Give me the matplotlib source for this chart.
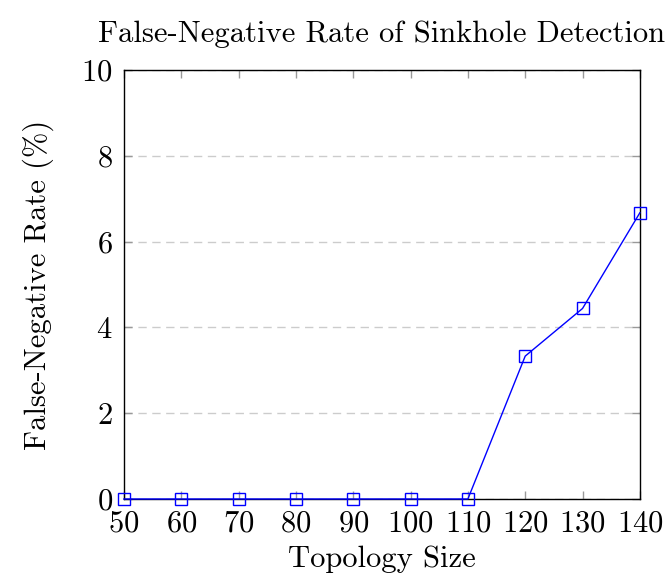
import matplotlib
matplotlib.use("Agg")
import matplotlib.pyplot as plt

topology_size = [50, 60, 70, 80, 90, 100, 110, 120, 130, 140]
fn_rate = [0, 0, 0, 0, 0, 0, 0, 3.33, 4.44, 6.67]
y_ticks = [0, 2, 4, 6, 8, 10]

plt.rcParams['font.family'] = ['cmr10', 'DejaVu Serif']
plt.rcParams['axes.formatter.use_mathtext'] = True

fig = plt.figure(figsize=(6.7, 5.78), dpi=100)
ax = fig.add_axes([0.185, 0.1367, 0.77, 0.7423])

ax.plot(topology_size, fn_rate, color='blue', lw=1.0, marker='s', ms=9,
        mfc='none', mec='blue', mew=1.0, clip_on=False, zorder=3)

ax.set_xlim(50, 140)
ax.set_ylim(0, 10)
ax.set_xticks(topology_size)
ax.set_yticks(y_ticks)
ax.yaxis.grid(True, linestyle=(0, (6, 4)), color='#cccccc', lw=1.0)
ax.set_axisbelow(True)
ax.tick_params(direction='in', length=6, width=1, color='#999999',
               top=True, right=True, labelsize=22)
ax.tick_params(axis='x', pad=8)
ax.tick_params(axis='y', pad=8)
for s in ax.spines.values():
    s.set_linewidth(1.0)

ax.set_xlabel('Topology Size', fontsize=22, labelpad=6)
ax.set_ylabel('False-Negative Rate (%)', fontsize=22, labelpad=20)
ax.set_title('False-Negative Rate of Sinkhole Detection', fontsize=22, pad=20)

fig.savefig('out.png', dpi=100)
